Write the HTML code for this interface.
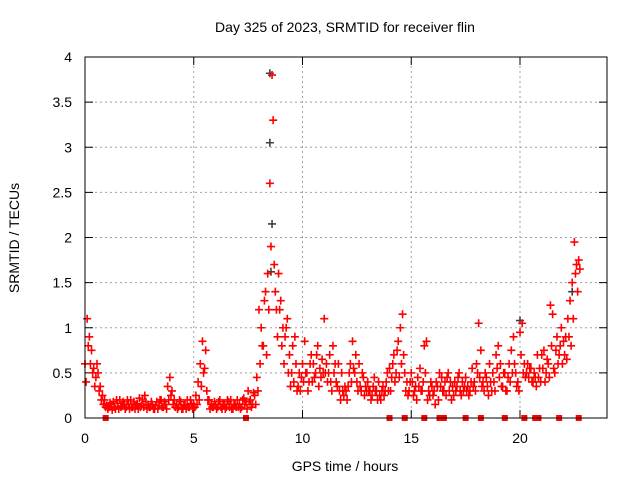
<!DOCTYPE html>
<html><head><meta charset="utf-8"><style>
body{margin:0;background:#fff}
svg text{font-family:"Liberation Sans",sans-serif;font-size:14px;fill:#000}
</style></head><body>
<svg id="chart" width="640" height="480" xmlns="http://www.w3.org/2000/svg">
<rect width="640" height="480" fill="#fff"/>
<text x="345" y="32" text-anchor="middle">Day 325 of 2023, SRMTID for receiver flin</text>
<text x="345" y="471" text-anchor="middle">GPS time / hours</text>
<text transform="translate(19,238) rotate(-90)" text-anchor="middle">SRMTID / TECUs</text>
<g id="grid"></g><g id="ticks"></g><g id="marks"></g>
<rect x="85" y="57" width="522" height="361" fill="none" stroke="#000" stroke-width="1"/>
</svg>
<script>
const xTicks=[0,5,10,15,20];
const yTicks=[0,0.5,1,1.5,2,2.5,3,3.5,4];
const yTickLabels=["0","0.5","1","1.5","2","2.5","3","3.5","4"];
const valsA=[0.6,1.1,0.9,0.75,0.55,0.45,0.5,0.35,0.25,0.2,
0.14,0.12,0.15,0.18,0.1,0.16,0.2,0.13,0.15,0.12,
0.15,0.2,0.12,0.1,0.16,0.22,0.14,0.12,0.18,0.15,
0.12,0.15,0.1,0.18,0.14,0.2,0.12,0.15,0.35,0.45,
0.3,0.2,0.15,0.12,0.18,0.1,0.15,0.2,0.12,0.16,
0.15,0.25,0.4,0.6,0.85,0.55,0.3,0.2,0.15,0.12,
0.15,0.12,0.2,0.1,0.15,0.12,0.18,0.2,0.1,0.15,
0.2,0.15,0.12,0.22,0.18,0.3,0.2,0.15,0.25,0.45,
1.2,1.0,0.8,1.4,1.6,2.6,3.8,1.7,1.2,1.6,
1.3,1.0,0.9,1.1,0.7,0.5,0.4,0.6,0.35,0.3,
0.6,0.85,0.5,0.4,0.7,0.6,0.5,0.8,0.55,0.65,
1.1,0.6,0.5,0.4,0.8,0.6,0.35,0.3,0.5,0.25,
0.3,0.35,0.6,0.85,0.5,0.4,0.6,0.3,0.45,0.35,
0.4,0.3,0.25,0.45,0.3,0.4,0.2,0.35,0.3,0.5,
0.55,0.45,0.7,0.5,0.85,1.0,1.15,0.5,0.4,0.3,
0.5,0.25,0.35,0.45,0.55,0.3,0.8,0.85,0.3,0.4,
0.25,0.15,0.35,0.5,0.45,0.3,0.25,0.5,0.4,0.35,
0.4,0.35,0.5,0.25,0.3,0.45,0.35,0.3,0.55,0.4,
0.6,1.05,0.75,0.4,0.5,0.35,0.6,0.3,0.4,0.7,
0.8,0.6,0.35,0.5,0.3,0.6,0.75,0.9,0.5,0.4,
0.95,1.05,0.6,0.5,0.45,0.55,0.4,0.45,0.7,0.55,
0.7,0.75,0.5,0.6,1.25,1.15,0.5,0.9,0.7,1.0,
0.85,0.9,1.1,1.3,1.5,1.95,1.7,1.75];
const valsB=[0.4,0.8,0.6,0.5,0.35,0.6,0.3,0.2,0.15,0.12,
0.1,0.17,0.09,0.12,0.2,0.1,0.12,0.18,0.1,0.2,
0.1,0.12,0.18,0.15,0.1,0.12,0.2,0.25,0.1,0.12,
0.18,0.1,0.14,0.1,0.2,0.12,0.18,0.1,0.2,0.25,
0.15,0.12,0.1,0.2,0.1,0.14,0.1,0.12,0.2,0.1,
0.12,0.15,0.2,0.35,0.5,0.75,0.2,0.1,0.12,0.18,
0.1,0.18,0.12,0.15,0.1,0.2,0.12,0.1,0.15,0.12,
0.12,0.1,0.2,0.15,0.1,0.18,0.12,0.28,0.15,0.3,
0.6,0.8,1.3,0.7,1.2,1.9,3.3,1.4,0.9,1.2,
0.8,0.6,1.0,0.5,0.35,0.8,0.9,0.3,0.5,0.45,
0.4,0.5,0.3,0.6,0.4,0.45,0.7,0.35,0.45,0.5,
0.5,0.4,0.7,0.3,0.5,0.4,0.6,0.2,0.3,0.35,
0.2,0.5,0.4,0.55,0.7,0.3,0.35,0.5,0.25,0.3,
0.3,0.2,0.35,0.3,0.2,0.25,0.3,0.25,0.4,0.3,
0.3,0.6,0.4,0.75,0.45,0.6,0.7,0.3,0.25,0.4,
0.4,0.3,0.2,0.35,0.3,0.4,0.5,0.2,0.25,0.35,
0.3,0.4,0.2,0.35,0.3,0.4,0.45,0.3,0.2,0.25,
0.3,0.45,0.3,0.4,0.35,0.3,0.25,0.4,0.35,0.3,
0.5,0.45,0.35,0.3,0.45,0.25,0.4,0.5,0.3,0.55,
0.45,0.35,0.5,0.3,0.45,0.4,0.5,0.6,0.35,0.3,
0.7,0.5,0.45,0.6,0.55,0.4,0.5,0.35,0.45,0.4,
0.55,0.4,0.65,0.45,0.8,0.55,0.75,0.6,0.8,0.6,
0.7,0.65,0.9,0.8,1.1,1.6,1.4,1.65];
const timeStep=0.1;
const greyTimes=[8.5,8.5,8.6,8.55,20.0,22.4];
const greyVals=[3.82,3.05,2.15,1.62,1.08,1.4];
const gapTimes=[0.95,7.4,14.0,14.7,15.6,16.3,16.5,17.5,18.2,19.3,20.2,20.7,20.85,21.8,22.7];

const NS="http://www.w3.org/2000/svg";
const X0=85,X1=607,Y0=418,Y1=57;
const xs=h=>X0+h/24*(X1-X0);
const ys=v=>Y0-v/4*(Y0-Y1);
function mk(tag,attrs,parent){const e=document.createElementNS(NS,tag);for(const k in attrs)e.setAttribute(k,attrs[k]);document.getElementById(parent).appendChild(e);return e;}
yTicks.forEach((v,i)=>{const y=ys(v);
 if(v>0&&v<4){const g=mk('line',{x1:X0,x2:X1,y1:y,y2:y,stroke:'#a0a0a0','stroke-dasharray':'2,3'},'grid');
 
 }
 const t=mk('line',{x1:X0,x2:X0+8,y1:y,y2:y,stroke:'#000'},'ticks');
 
 
 const t2=mk('line',{x1:X1,x2:X1-8,y1:y,y2:y,stroke:'#000'},'ticks');
 
 
 const l=mk('text',{x:72,y:y+5,'text-anchor':'end'},'ticks');l.textContent=yTickLabels[i];
 
 
});
xTicks.forEach(h=>{const x=xs(h);
 if(h>0){const g=mk('line',{x1:x,x2:x,y1:Y0,y2:Y1,stroke:'#a0a0a0','stroke-dasharray':'2,3'},'grid');
 
 }
 const t=mk('line',{x1:x,x2:x,y1:Y0,y2:Y0-8,stroke:'#000'},'ticks');
 
 
 const t2=mk('line',{x1:x,x2:x,y1:Y1,y2:Y1+8,stroke:'#000'},'ticks');
 
 
 const l=mk('text',{x:x,y:443,'text-anchor':'middle'},'ticks');l.textContent=String(h);
 
 
});
function plus(h,v,color,name){const x=xs(h),y=ys(v);
 const p=mk('path',{d:`M${x-4} ${y}h8M${x} ${y-4}v8`,stroke:color,'stroke-width':1.6,fill:'none'},'marks');
 
 }
greyTimes.forEach((h,i)=>plus(h,greyVals[i],'#404040','black-point'));
valsB.forEach((v,i)=>plus(i*timeStep+0.05,v,'#ff0000','srmtid-point'));
valsA.forEach((v,i)=>plus(i*timeStep,v,'#ff0000','srmtid-point'));
gapTimes.forEach(h=>{const r=mk('rect',{x:xs(h)-3,y:Y0-3,width:6,height:6,fill:'#ff0000'},'marks');
 
 });
</script>
</body></html>
